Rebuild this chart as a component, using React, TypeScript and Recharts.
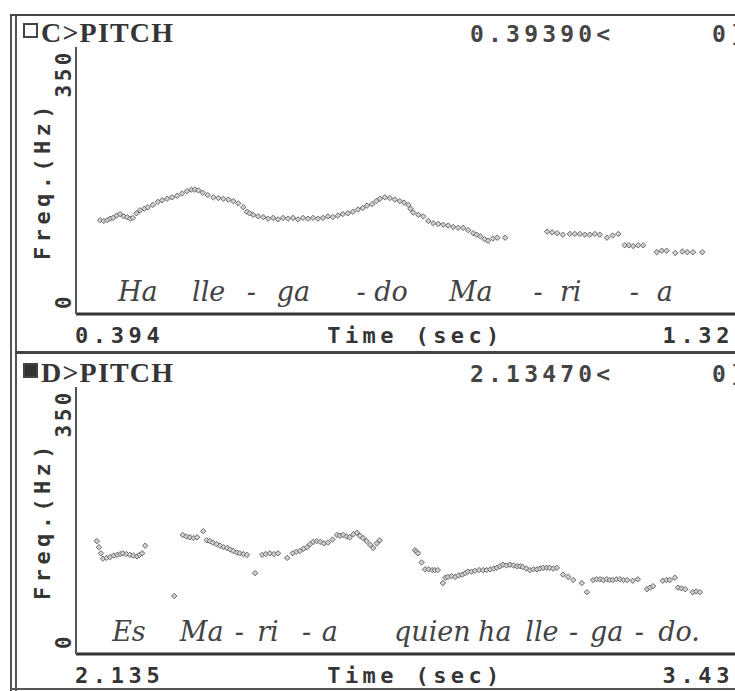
import React from 'react';
import { ScatterChart, Scatter, XAxis, YAxis, Label } from 'recharts';

// ---------- data: panel C (top) ----------
const TOP_TIME = [
  0.428, 0.433, 0.438, 0.442, 0.446, 0.451, 0.456, 0.461, 0.466, 0.47, 0.474, 0.479, 0.484, 0.49,
  0.495, 0.502, 0.509, 0.515, 0.522, 0.529, 0.536, 0.543, 0.55, 0.556, 0.561, 0.566, 0.572, 0.579,
  0.587, 0.594, 0.601, 0.608, 0.615, 0.622, 0.629, 0.634, 0.638, 0.643, 0.65, 0.657, 0.664, 0.671,
  0.678, 0.685, 0.692, 0.699, 0.706, 0.713, 0.72, 0.727, 0.734, 0.741, 0.748, 0.755, 0.762, 0.769,
  0.776, 0.783, 0.79, 0.797, 0.803, 0.81, 0.816, 0.821, 0.828, 0.835, 0.842, 0.849, 0.855, 0.861,
  0.864, 0.868, 0.875, 0.882, 0.889, 0.896, 0.903, 0.91, 0.917, 0.924, 0.931, 0.938, 0.945, 0.952,
  0.957, 0.962, 0.968, 0.973, 0.98, 0.986, 0.997,
  1.056, 1.063, 1.07, 1.078, 1.088, 1.095, 1.102, 1.109, 1.116, 1.123, 1.13, 1.14, 1.148, 1.156,
  1.165, 1.171, 1.177, 1.184, 1.191, 1.21, 1.217, 1.224, 1.236, 1.246, 1.253, 1.261, 1.274,
];
const TOP_HZ = [
  123, 122, 123, 125, 126, 129, 131, 128, 127, 125, 126, 132, 136, 138,
  140, 143, 147, 149, 151, 153, 155, 158, 161, 163, 163, 162, 159, 156,
  153, 152, 151, 150, 148, 145, 140, 134, 132, 130, 128, 127, 125, 126,
  124, 126, 125, 126, 124, 126, 125, 126, 125, 126, 128, 127, 129, 131,
  132, 134, 137, 139, 142, 144, 148, 151, 153, 152, 150, 148, 146, 143,
  138, 133, 130, 128, 122, 119, 118, 117, 116, 114, 113, 113, 110, 106,
  104, 102, 98, 96, 99, 100, 100,
  108, 107, 106, 104, 105, 105, 105, 104, 104, 105, 104, 100, 103, 105,
  90, 90, 89, 90, 90, 81, 83, 83, 80, 82, 81, 81, 81,
];
const TOP_DOMAIN = [0.394, 1.32];
const TOP_X_TICKS = [0.394, 1.32];
const TOP_SYLLABLES = ['Ha', 'lle', '-', 'ga', '-', 'do', 'Ma', '-', 'ri', '-', 'a'];
const TOP_SYLLABLE_TIMES = [0.453, 0.557, 0.634, 0.676, 0.788, 0.813, 0.918, 1.037, 1.074, 1.172, 1.21];
const TOP_CURSOR = '0.39390<';

// ---------- data: panel D (bottom) ----------
const BOTTOM_TIME = [
  2.176, 2.18, 2.184, 2.188, 2.195, 2.202, 2.209, 2.216, 2.222, 2.227, 2.234, 2.241, 2.248, 2.255,
  2.26, 2.265, 2.271,
  2.328,
  2.345, 2.352, 2.359, 2.366, 2.373, 2.385, 2.392, 2.398, 2.404, 2.411, 2.418, 2.425, 2.432, 2.438,
  2.444, 2.451, 2.457, 2.464, 2.471,
  2.487,
  2.501, 2.508, 2.516, 2.524, 2.532, 2.55, 2.561, 2.568, 2.575, 2.582, 2.589, 2.595, 2.601, 2.608,
  2.615, 2.622, 2.63, 2.639, 2.648, 2.654, 2.66, 2.667, 2.673, 2.68, 2.687, 2.693, 2.699, 2.706,
  2.713, 2.719, 2.726, 2.732,
  2.801, 2.804, 2.807, 2.814, 2.821, 2.828, 2.835, 2.84, 2.846, 2.856, 2.861, 2.866, 2.873, 2.88,
  2.887, 2.894, 2.9, 2.905, 2.912, 2.919, 2.927, 2.935, 2.942, 2.949, 2.956, 2.962, 2.968, 2.974,
  2.981, 2.988, 2.995, 3.002, 3.008, 3.013, 3.02, 3.027, 3.034, 3.041, 3.047, 3.053, 3.06, 3.066,
  3.073, 3.08, 3.092, 3.102, 3.112, 3.129, 3.139, 3.151, 3.158, 3.165, 3.171, 3.178, 3.184, 3.19,
  3.197, 3.204, 3.211, 3.218, 3.229, 3.239, 3.257, 3.263, 3.269, 3.288, 3.295, 3.302, 3.312, 3.318,
  3.325, 3.332, 3.347, 3.354, 3.361,
];
const BOTTOM_HZ = [
  148, 140, 132, 125, 126, 127, 129, 130, 131, 132, 131, 130, 129, 128,
  130, 132, 142,
  76,
  156, 154, 153, 152, 153, 161, 149, 148, 146, 144, 142, 140, 139, 137,
  135, 133, 132, 131, 130,
  106,
  130, 131, 132, 131, 132, 126, 132, 134, 135, 138, 140, 144, 147, 148,
  147, 145, 146, 150, 156, 155, 156, 154, 153, 157, 159, 155, 152, 148,
  143, 139, 145, 149,
  136, 134, 132, 120, 111, 111, 110, 110, 110, 93, 100, 101, 102, 101,
  103, 104, 106, 108, 108, 109, 110, 110, 110, 111, 112, 113, 115, 117,
  116, 117, 116, 115, 115, 114, 112, 110, 111, 111, 112, 113, 113, 113,
  112, 113, 104, 101, 97, 93, 81, 97, 98, 98, 97, 98, 97, 97,
  98, 98, 97, 97, 96, 98, 85, 87, 89, 96, 97, 97, 100, 87,
  86, 85, 81, 82, 81,
];
const BOTTOM_DOMAIN = [2.135, 3.43];
const BOTTOM_X_TICKS = [2.135, 3.43];
const BOTTOM_SYLLABLES = ['Es', 'Ma', '-', 'ri', '-', 'a', 'quien', 'ha', 'lle', '-', 'ga', '-', 'do.'];
const BOTTOM_SYLLABLE_TIMES = [2.206, 2.339, 2.447, 2.491, 2.579, 2.618, 2.76, 2.925, 3.018, 3.104, 3.145, 3.233, 3.279];
const BOTTOM_CURSOR = '2.13470<';

const Y_DOMAIN = [0, 350];
const Y_TICKS = [0, 350];

// ---------- styles ----------
const MONO = '"DejaVu Sans Mono", monospace';
const SERIF = '"Liberation Serif", "DejaVu Serif", serif';
const ITALIC = '"DejaVu Serif", serif';
const INK = '#353535';
const LABEL_HZ = 17;

const Diamond = (p: any) => {
  const { cx, cy } = p;
  if (cx == null || cy == null) return null;
  const r = 2.7;
  return (
    <polygon
      points={`${cx},${cy - r} ${cx + r},${cy} ${cx},${cy + r} ${cx - r},${cy}`}
      fill="#d0d0d0"
      stroke="#6a6a6a"
      strokeWidth={1}
    />
  );
};

const Syllable = (p: any) => {
  const { cx, cy } = p;
  const s = p.payload?.s ?? p.s;
  return (
    <text x={cx} y={cy} fontFamily={ITALIC} fontStyle="italic" fontSize={27} fill="#444">
      {s}
    </text>
  );
};

const XTick = (props: any) => {
  const { x, y, payload, first } = props;
  const isFirst = Math.abs(payload.value - first) < 1e-9;
  return (
    <text
      x={x - 1}
      y={y + 29}
      textAnchor={isFirst ? 'start' : 'end'}
      fontFamily={MONO}
      fontWeight={700}
      fontSize={22}
      letterSpacing={4.6}
      fill={INK}
    >
      {String(payload.value)}
    </text>
  );
};

const YTick = (props: any) => {
  const { y, payload } = props;
  const isZero = payload.value === 0;
  const ty = isZero ? y - 5 : y + 2;
  return (
    <text
      transform={`translate(71, ${ty}) rotate(-90)`}
      textAnchor={isZero ? 'start' : 'end'}
      fontFamily={MONO}
      fontWeight={700}
      fontSize={21}
      letterSpacing={3.5}
      fill={INK}
    >
      {String(payload.value)}
    </text>
  );
};

const YLabel = (props: any) => {
  const vb = props.viewBox || {};
  const cx = (vb.x ?? 0) + (vb.width ?? 76) - 34;
  const cy = (vb.y ?? 0) + (vb.height ?? 0) / 2;
  return (
    <text
      transform={`translate(${cx}, ${cy}) rotate(-90)`}
      textAnchor="middle"
      dominantBaseline="central"
      fontFamily={MONO}
      fontWeight={700}
      fontSize={22}
      letterSpacing={4.4}
      fill={INK}
    >
      Freq.(Hz)
    </text>
  );
};

const XLabel = (props: any) => {
  const vb = props.viewBox || {};
  const cx = (vb.x ?? 0) + (vb.width ?? 0) / 2 + 10;
  const y = (vb.y ?? 0) + 29;
  return (
    <text x={cx} y={y} textAnchor="middle" fontFamily={MONO} fontWeight={700} fontSize={22} letterSpacing={4.4} fill={INK}>
      Time (sec)
    </text>
  );
};

type PanelProps = {
  top: number;
  height: number;
  marginTop: number;
  axisHeight: number;
  times: number[];
  hz: number[];
  domain: number[];
  xTicks: number[];
  syllables: string[];
  syllableTimes: number[];
};

const Panel = ({ top, height, marginTop, axisHeight, times, hz, domain, xTicks, syllables, syllableTimes }: PanelProps) => {
  const points = times.map((t, i) => ({ t, hz: hz[i] }));
  const labels = syllables.map((s, i) => ({ t: syllableTimes[i], hz: LABEL_HZ, s }));
  return (
    <div style={{ position: 'absolute', left: 0, top, width: 735, height }}>
      <ScatterChart width={735} height={height} margin={{ top: marginTop, bottom: 0, left: 0, right: 0 }}>
        <XAxis
          type="number"
          dataKey="t"
          domain={domain}
          ticks={xTicks}
          interval={0}
          allowDataOverflow
          height={axisHeight}
          tickLine={false}
          tickSize={0}
          tickMargin={0}
          axisLine={{ stroke: '#333', strokeWidth: 3 }}
          tick={<XTick first={domain[0]} />}
        >
          <Label content={<XLabel />} />
        </XAxis>
        <YAxis
          type="number"
          dataKey="hz"
          domain={Y_DOMAIN}
          ticks={Y_TICKS}
          interval={0}
          allowDataOverflow
          width={76}
          tickLine={false}
          tickSize={0}
          tickMargin={0}
          axisLine={{ stroke: '#555', strokeWidth: 2 }}
          tick={<YTick />}
        >
          <Label content={<YLabel />} />
        </YAxis>
        <Scatter data={labels} shape={<Syllable />} isAnimationActive={false} />
        <Scatter data={points} shape={<Diamond />} isAnimationActive={false} />
      </ScatterChart>
    </div>
  );
};

const Header = ({ y, filled, letter, cursor }: { y: number; filled: boolean; letter: string; cursor: string }) => (
  <g>
    <rect x={24} y={y - 18} width={13} height={13} fill={filled ? '#333' : '#fff'} stroke="#444" strokeWidth={2} />
    <text x={41} y={y} fontFamily={SERIF} fontWeight={700} fontSize={28} letterSpacing={1.2} fill={INK}>
      {letter + '>PITCH'}
    </text>
    <text x={470} y={y} fontFamily={MONO} fontWeight={700} fontSize={23} letterSpacing={4.2} fill="#454545">
      {cursor}
    </text>
    <text x={712} y={y} fontFamily={MONO} fontWeight={700} fontSize={23} letterSpacing={4.2} fill="#454545">
      0]
    </text>
  </g>
);

export default function App() {
  return (
    <div
      style={{
        position: 'absolute',
        left: 0,
        top: 0,
        width: 735,
        height: 691,
        overflow: 'hidden',
        background: '#fff',
      }}
    >
      <svg width={735} height={691} style={{ position: 'absolute', left: 0, top: 0 }}>
        <rect x={10} y={14} width={2} height={677} fill="#555" />
        <rect x={15} y={14} width={2} height={677} fill="#555" />
        <rect x={10} y={14} width={725} height={2} fill="#444" />
        <rect x={15} y={351} width={720} height={3} fill="#444" />
        <rect x={10} y={688} width={725} height={2} fill="#555" />
        <Header y={42} filled={false} letter="C" cursor={TOP_CURSOR} />
        <Header y={382} filled={true} letter="D" cursor={BOTTOM_CURSOR} />
      </svg>
      <Panel
        top={0}
        height={352}
        marginTop={47}
        axisHeight={38}
        times={TOP_TIME}
        hz={TOP_HZ}
        domain={TOP_DOMAIN}
        xTicks={TOP_X_TICKS}
        syllables={TOP_SYLLABLES}
        syllableTimes={TOP_SYLLABLE_TIMES}
      />
      <Panel
        top={352}
        height={339}
        marginTop={35}
        axisHeight={37}
        times={BOTTOM_TIME}
        hz={BOTTOM_HZ}
        domain={BOTTOM_DOMAIN}
        xTicks={BOTTOM_X_TICKS}
        syllables={BOTTOM_SYLLABLES}
        syllableTimes={BOTTOM_SYLLABLE_TIMES}
      />
    </div>
  );
}
